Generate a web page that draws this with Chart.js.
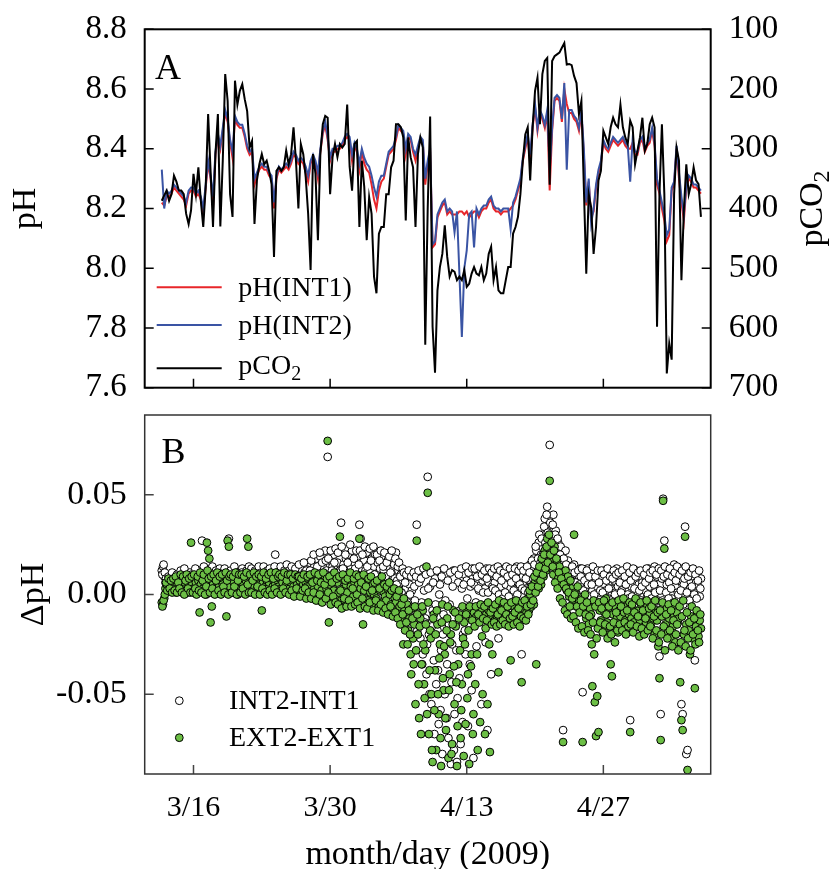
<!DOCTYPE html>
<html><head><meta charset="utf-8">
<script src="https://cdn.jsdelivr.net/npm/chart.js@4.4.0/dist/chart.umd.min.js"></script>
<style>
html,body{margin:0;padding:0;background:#fff;}
#wrap{position:relative;width:836px;height:869px;overflow:hidden;}
#cA{position:absolute;left:0;top:0;}
#cB{position:absolute;left:0;top:400px;}
</style></head><body>
<div id="wrap">
<canvas id="cA" width="836" height="400"></canvas>
<canvas id="cB" width="836" height="469"></canvas>
</div>
<script>
// ---------- DATA ----------
// Panel A: readings every 0.25 day starting at March 12.75 (day-of-March axis; April d = 31+d)
const aStartDay = 12.75, aStepDay = 0.25;
const pco2 = [387,378,370,387,376,345,355,370,370,376,
409,426,403,342,376,331,387,431,364,242,
337,431,309,242,430,320,175,220,376,414,
186,226,203,192,217,237,298,287,426,353,
326,309,326,320,337,359,481,337,331,337,
331,303,326,309,264,320,400,292,309,348,
409,503,309,342,453,309,259,245,248,376,
314,292,314,292,298,292,226,330,370,292,
287,431,320,364,453,381,409,514,542,442,
431,431,376,376,331,320,259,259,264,281,
420,281,314,331,431,309,281,298,628,400,
246,598,675,537,498,476,428,481,514,503,
506,520,514,520,503,531,526,509,498,509,
512,498,520,509,476,464,520,498,537,542,
542,520,498,498,442,431,414,376,320,276,
264,353,264,203,181,259,175,153,148,360,
153,145,142,139,131,123,159,158,160,178,
190,242,220,364,509,376,398,476,431,353,
337,270,281,292,264,248,259,264,226,264,
281,292,253,264,326,303,281,248,303,292,
259,248,264,598,376,259,376,676,626,653,
376,298,320,520,403,326,376,359,331,353,
359,414];
const phInt1 = [8.22,8.21,8.24,8.24,8.25,8.27,8.26,8.25,8.24,8.23,
8.21,8.25,8.26,8.26,8.24,8.25,8.23,8.18,8.27,8.35,
8.30,8.20,8.38,8.44,8.40,8.46,8.52,8.49,8.42,8.37,
8.50,8.48,8.47,8.47,8.44,8.40,8.38,8.39,8.28,8.31,
8.33,8.34,8.33,8.33,8.31,8.30,8.20,8.30,8.33,8.32,
8.33,8.34,8.33,8.35,8.38,8.37,8.35,8.36,8.35,8.32,
8.29,8.35,8.37,8.35,8.30,8.39,8.45,8.48,8.43,8.36,
8.39,8.39,8.40,8.40,8.41,8.43,8.44,8.43,8.36,8.41,
8.39,8.33,8.39,8.35,8.33,8.32,8.28,8.23,8.20,8.26,
8.29,8.30,8.34,8.38,8.39,8.40,8.43,8.47,8.46,8.45,
8.38,8.44,8.43,8.39,8.36,8.40,8.43,8.42,8.28,8.35,
8.39,8.07,8.08,8.17,8.19,8.21,8.22,8.18,8.19,8.18,
8.18,8.18,8.19,8.19,8.18,8.19,8.17,8.18,8.19,8.19,
8.17,8.19,8.20,8.20,8.22,8.23,8.20,8.19,8.19,8.18,
8.19,8.19,8.19,8.20,8.21,8.23,8.26,8.29,8.36,8.40,
8.44,8.35,8.47,8.54,8.46,8.52,8.50,8.47,8.52,8.26,
8.46,8.56,8.57,8.56,8.49,8.60,8.55,8.52,8.52,8.50,
8.49,8.46,8.52,8.38,8.21,8.29,8.17,8.19,8.27,8.32,
8.35,8.42,8.40,8.39,8.41,8.43,8.42,8.41,8.42,8.43,
8.41,8.40,8.40,8.42,8.38,8.38,8.42,8.43,8.39,8.41,
8.42,8.46,8.41,8.28,8.25,8.20,8.16,8.09,8.11,8.26,
8.28,8.40,8.30,8.22,8.16,8.27,8.30,8.29,8.27,8.27,
8.26,8.25];
const phInt2 = [8.33,8.20,8.26,8.25,8.26,8.28,8.27,8.26,8.25,8.24,
8.22,8.26,8.27,8.27,8.25,8.26,8.24,8.20,8.28,8.36,
8.31,8.24,8.39,8.45,8.41,8.47,8.53,8.50,8.43,8.39,
8.51,8.49,8.48,8.48,8.45,8.41,8.39,8.40,8.30,8.32,
8.34,8.35,8.34,8.34,8.32,8.31,8.22,8.31,8.34,8.33,
8.34,8.35,8.34,8.36,8.39,8.38,8.36,8.37,8.36,8.34,
8.31,8.36,8.38,8.36,8.32,8.40,8.46,8.49,8.44,8.37,
8.40,8.40,8.41,8.41,8.42,8.44,8.45,8.44,8.38,8.42,
8.40,8.35,8.40,8.37,8.35,8.34,8.31,8.27,8.24,8.29,
8.31,8.31,8.35,8.39,8.40,8.41,8.44,8.48,8.47,8.46,
8.40,8.45,8.44,8.40,8.38,8.41,8.44,8.43,8.30,8.36,
8.40,8.08,8.09,8.18,8.20,8.22,8.23,8.19,8.20,8.19,
8.12,8.19,7.98,7.77,8.00,8.06,8.18,8.19,8.07,8.20,
8.18,8.20,8.21,8.21,8.23,8.24,8.21,8.20,8.20,8.19,
8.20,8.20,8.20,8.13,8.22,8.24,8.27,8.30,8.37,8.41,
8.45,8.38,8.48,8.55,8.47,8.53,8.51,8.48,8.53,8.33,
8.47,8.57,8.58,8.57,8.50,8.62,8.33,8.53,8.53,8.51,
8.50,8.47,8.53,8.40,8.22,8.30,8.15,8.20,8.28,8.33,
8.36,8.43,8.41,8.40,8.42,8.44,8.43,8.42,8.43,8.44,
8.42,8.41,8.29,8.43,8.39,8.39,8.43,8.44,8.40,8.42,
8.43,8.47,8.42,8.30,8.26,8.22,8.18,8.11,8.13,8.27,
8.29,8.41,8.32,8.24,8.18,8.28,8.31,8.30,8.28,8.28,
8.27,8.26];

// Panel B: readings every 0.125 day starting at March 12.75, plus the in-between readings
const bStartDay = 12.75, bStepDay = 0.125;
const dInt21 = [
0.012,0.014,0.009,0.006,0.008,0.004,0.007,0.005,
0.006,0.009,0.003,0.007,0.005,0.008,0.002,0.006,
0.005,0.010,0.004,0.007,0.003,0.008,0.006,0.011,
0.004,0.009,0.006,0.002,0.008,0.005,0.012,0.007,
0.008,0.027,0.004,0.008,0.013,0.003,0.006,0.009,
0.005,0.011,0.002,0.007,0.009,0.004,0.010,0.006,
0.007,0.003,0.009,0.005,0.012,0.006,0.008,0.028,
0.006,0.010,0.004,0.008,0.002,0.009,0.005,0.011,
0.007,0.003,0.013,0.006,0.009,0.004,0.008,0.005,
0.010,0.006,0.002,0.008,0.005,0.011,0.007,0.004,
0.009,0.005,0.012,0.003,0.007,0.010,0.006,0.008,
0.004,0.009,0.006,0.011,0.008,0.020,0.005,0.003,
0.008,0.012,0.006,0.009,0.004,0.010,0.007,0.013,
0.006,0.009,0.003,0.011,0.008,0.005,0.012,0.007,
0.010,0.006,0.013,0.008,0.004,0.011,0.007,0.014,
0.009,0.016,0.007,0.012,0.005,0.014,0.010,0.018,
0.011,0.006,0.019,0.009,0.014,0.008,0.022,0.012,
0.069,0.010,0.017,0.007,0.014,0.020,0.009,0.013,
0.016,0.008,0.012,0.036,0.010,0.015,0.006,0.018,
0.012,0.020,0.008,0.014,0.022,0.009,0.016,0.011,
0.019,0.010,0.035,0.028,0.013,0.007,0.017,0.012,
0.021,0.009,0.015,0.011,0.018,0.006,0.014,0.020,
0.010,0.016,0.008,0.013,0.019,0.007,0.012,0.015,
0.009,0.014,0.006,0.021,0.011,0.005,0.013,0.008,
0.021,0.007,0.012,0.004,0.010,0.006,0.002,0.009,
0.003,0.008,-0.002,0.005,-0.006,0.002,-0.010,0.004,
-0.008,0.035,-0.015,0.006,-0.022,-0.004,-0.030,0.002,
-0.012,-0.040,0.059,-0.020,0.004,-0.055,-0.008,-0.033,
0.008,-0.045,-0.018,-0.065,0.005,-0.028,-0.080,-0.010,
-0.050,0.010,-0.035,-0.072,-0.005,-0.085,-0.025,0.012,
-0.060,-0.015,-0.084,0.006,-0.042,-0.075,0.003,-0.020,
0.010,-0.030,0.007,-0.066,0.012,0.004,-0.048,0.009,
0.005,0.011,-0.026,0.008,0.002,0.012,-0.055,0.007,
0.009,0.003,0.013,-0.068,0.006,0.010,-0.040,0.004,
0.011,0.006,0.002,0.012,-0.022,0.008,0.004,0.010,
0.007,0.013,0.005,0.001,0.011,0.008,0.003,0.012,
0.006,0.010,0.002,0.014,0.008,0.004,0.011,-0.030,
0.009,0.005,0.013,0.003,0.010,0.007,0.015,0.006,
0.012,0.018,0.008,0.022,0.014,0.026,0.011,0.020,
0.030,0.016,0.038,0.024,0.044,0.020,0.075,0.035,
0.028,0.040,0.022,0.032,0.018,0.026,0.014,0.024,
0.020,-0.068,0.012,0.022,0.009,0.017,0.006,0.014,
0.010,0.004,0.015,0.007,0.012,0.002,0.009,0.013,
0.005,-0.049,0.011,0.003,0.008,0.013,0.000,0.006,
0.010,0.002,0.012,-0.003,0.007,0.004,0.011,0.001,
0.008,-0.004,0.005,0.012,0.002,0.009,-0.002,0.006,
0.003,0.010,-0.005,0.007,0.001,0.013,0.004,-0.001,
0.009,0.002,0.006,-0.003,0.011,0.005,0.000,0.008,
-0.063,0.004,0.010,-0.002,0.007,0.012,0.001,0.005,
0.009,-0.003,0.006,0.011,0.002,0.008,-0.001,0.013,
0.004,0.010,0.000,0.007,0.014,0.003,0.009,-0.004,
-0.031,-0.060,0.008,0.048,0.027,0.011,0.005,0.013,
0.006,0.012,-0.002,0.009,0.015,0.004,0.010,0.001,
0.007,0.013,-0.055,-0.060,0.005,0.034,-0.080,-0.078,
0.009,0.003,0.012,-0.002,0.009,-0.033,0.006,0.011,
0.004,-0.001,0.008];
const dInt21Mid = [
0.010,0.015,0.011,0.008,0.005,0.009,0.003,0.008,
0.011,0.004,0.008,0.001,0.010,0.004,0.007,0.012,
0.002,0.008,0.013,0.005,0.009,0.001,0.007,0.004,
0.010,0.003,0.007,0.013,0.001,0.009,0.004,0.010,
0.002,0.007,0.014,0.005,0.000,0.010,0.012,0.003,
0.008,0.014,0.006,0.001,0.012,0.007,0.003,0.013,
0.004,0.011,0.001,0.013,0.008,0.002,0.010,0.004,
0.012,0.002,0.007,0.014,0.005,0.011,0.000,0.008,
0.002,0.011,0.005,0.010,0.001,0.012,0.006,0.014,
0.003,0.013,0.008,0.001,0.012,0.004,0.010,0.014,
0.002,0.011,0.007,0.014,0.004,0.001,0.012,0.005,
0.013,0.001,0.010,0.005,0.014,0.002,0.011,0.008,
0.003,0.014,0.009,0.002,0.012,0.006,0.015,0.004,
0.012,0.002,0.014,0.007,0.001,0.013,0.009,0.003,
0.015,0.004,0.009,0.002,0.016,0.006,0.012,0.005,
0.003,0.012,0.017,0.006,0.020,0.009,0.004,0.014,
0.007,0.021,0.004,0.016,0.010,0.003,0.017,0.007,
0.018,0.005,0.022,0.012,0.003,0.016,0.023,0.006,
0.021,0.011,0.004,0.024,0.013,0.007,0.020,0.003,
0.016,0.006,0.025,0.010,0.004,0.018,0.013,0.022,
0.005,0.015,0.022,0.004,0.020,0.009,0.024,0.006,
0.014,0.003,0.023,0.017,0.008,0.024,0.010,0.005,
0.020,0.004,0.017,0.022,0.003,0.014,0.021,0.009,
0.016,0.003,0.019,0.011,0.022,0.002,0.015,0.018,
0.005,0.014,0.016,0.009,0.001,0.013,0.011,0.006,
0.010,-0.004,0.012,0.000,0.009,-0.012,0.011,-0.003,
0.009,-0.018,0.012,-0.009,0.008,-0.035,0.013,-0.014,
0.010,-0.025,0.003,-0.050,0.011,-0.016,0.006,-0.070,
-0.005,0.012,-0.038,0.000,-0.058,0.009,-0.020,0.013,
-0.003,-0.062,0.007,-0.015,0.011,-0.044,0.004,-0.078,
0.012,-0.028,-0.052,0.010,-0.008,0.013,-0.064,0.005,
-0.018,0.014,-0.002,0.011,-0.035,0.006,0.013,-0.082,
0.013,-0.004,0.009,0.003,0.014,-0.012,0.010,0.001,
0.012,-0.024,0.008,0.001,0.013,-0.009,0.011,0.003,
0.013,0.002,0.009,0.014,0.000,0.012,0.007,-0.002,
0.011,0.001,0.014,0.009,-0.001,0.013,0.006,0.010,
0.002,0.013,0.008,0.000,0.012,0.005,0.014,0.003,
0.012,0.002,0.008,0.014,0.001,0.011,0.004,0.017,
0.008,0.015,0.024,0.010,0.018,0.030,0.016,0.028,
0.020,0.034,0.026,0.040,0.031,0.022,0.036,0.027,
0.035,0.018,0.030,0.014,0.028,0.010,0.020,0.016,
0.008,0.018,0.004,0.015,0.011,0.002,0.012,0.007,
0.014,0.001,0.011,0.006,-0.002,0.012,0.005,0.009,
0.013,0.002,0.007,-0.003,0.012,0.005,0.009,-0.001,
0.005,0.014,0.000,0.009,-0.005,0.012,0.006,0.002,
0.012,0.001,0.010,-0.004,0.007,0.013,0.003,0.009,
-0.003,0.008,0.012,0.000,0.010,-0.004,0.011,0.006,
0.001,0.012,-0.004,0.009,0.005,0.014,-0.002,0.011,
0.007,-0.001,0.013,0.003,0.009,-0.005,0.011,0.002,
0.012,0.004,-0.004,0.010,0.006,0.013,0.000,0.008,
0.011,-0.002,0.012,0.005,0.001,0.010,-0.003,0.013,
0.002,0.012,-0.003,0.009,0.014,0.001,0.010,-0.002,
0.013,0.003,0.009,-0.004,0.011,0.007,0.014,0.000,
0.010,0.002,0.012,-0.005,0.008,0.014,0.001,0.009,
-0.003,0.011,0.004,0.013,0.000,0.010,-0.002,0.007,
0.012,0.003];
const dExt21 = [
-0.004,-0.005,-0.002,0.003,0.005,0.002,0.006,0.004,
0.005,0.003,0.007,0.004,0.006,0.002,0.008,0.005,
0.004,0.007,0.003,0.006,0.002,0.008,0.005,0.009,
0.026,0.005,0.003,0.008,0.006,0.002,0.007,-0.009,
0.005,0.008,0.003,0.006,0.010,0.026,0.022,0.018,
-0.014,-0.006,0.005,0.003,0.008,0.001,0.006,0.004,
0.007,0.002,0.005,0.009,0.003,-0.011,0.027,0.024,
0.004,0.008,0.001,0.006,0.003,0.009,0.005,0.002,
0.006,0.003,0.008,0.005,0.001,0.007,0.028,0.024,
0.005,0.009,0.002,0.006,0.004,0.008,0.003,0.007,
0.005,0.002,-0.008,0.006,0.009,0.004,0.007,0.003,
0.006,0.001,0.008,0.004,0.010,0.005,0.002,0.007,
0.004,0.008,0.003,0.006,0.001,0.009,0.005,0.002,
0.007,0.003,0.006,0.010,0.004,0.001,0.008,0.005,
0.003,0.007,0.002,0.009,0.005,0.000,0.006,0.004,
0.008,0.002,0.005,-0.002,0.007,0.003,0.010,0.001,
0.004,-0.003,0.008,0.002,0.006,-0.001,0.009,0.003,
0.077,-0.014,0.005,-0.004,0.010,0.002,0.007,-0.002,
0.006,0.001,0.029,-0.003,0.008,0.003,-0.006,0.005,
0.001,0.007,-0.004,0.004,0.009,-0.001,0.006,0.002,
0.000,0.005,0.028,0.003,0.008,-0.015,0.002,-0.002,
0.004,-0.003,0.007,0.001,-0.005,0.005,0.000,0.003,
-0.002,0.004,-0.006,0.002,0.006,-0.004,0.001,-0.001,
-0.003,0.003,-0.007,0.000,-0.005,0.002,-0.008,-0.002,
-0.004,-0.009,0.000,-0.006,-0.012,-0.003,-0.025,-0.008,
-0.010,-0.005,-0.018,-0.012,-0.030,-0.007,-0.022,-0.015,
-0.055,0.027,-0.020,-0.062,-0.012,-0.035,-0.008,-0.045,
-0.028,0.014,0.051,-0.070,-0.018,-0.050,-0.084,-0.010,
-0.038,-0.078,-0.015,-0.060,-0.025,-0.086,-0.005,-0.048,
-0.030,-0.068,-0.012,-0.082,-0.040,-0.020,-0.075,-0.008,
-0.055,-0.016,-0.086,-0.035,-0.010,-0.072,-0.045,-0.022,
-0.014,-0.065,-0.008,-0.040,-0.085,-0.012,-0.030,-0.070,
-0.009,-0.045,-0.011,-0.078,-0.013,-0.064,-0.007,-0.050,
-0.012,-0.070,-0.010,-0.055,-0.008,-0.079,-0.011,-0.030,
-0.009,-0.013,-0.006,-0.011,-0.039,-0.008,-0.012,-0.010,
-0.007,-0.012,-0.009,-0.014,-0.006,-0.011,-0.033,-0.013,
-0.010,-0.006,-0.012,-0.008,-0.013,-0.005,-0.009,-0.044,
-0.007,-0.011,-0.004,-0.009,-0.002,-0.008,0.000,-0.006,
0.002,-0.005,0.006,-0.035,0.008,0.003,0.012,0.005,
0.015,0.009,0.022,0.012,0.028,0.014,0.057,0.018,
0.020,0.010,0.024,0.013,0.017,0.008,0.014,0.005,
0.011,-0.074,0.006,0.012,0.002,0.009,-0.001,0.007,
0.003,-0.004,0.030,0.001,-0.006,0.004,-0.003,-0.008,
-0.002,-0.074,-0.009,0.000,-0.012,-0.005,-0.015,-0.007,
-0.010,-0.046,-0.003,-0.054,-0.071,-0.051,-0.069,-0.008,
-0.013,-0.005,-0.018,-0.009,-0.002,-0.014,-0.007,-0.020,
-0.035,-0.041,-0.010,-0.016,-0.006,-0.012,-0.019,-0.008,
-0.011,-0.004,-0.015,-0.009,-0.013,-0.006,-0.017,-0.010,
-0.069,-0.012,-0.007,-0.014,-0.003,-0.010,-0.016,-0.008,
-0.013,-0.005,-0.011,-0.018,-0.009,-0.014,-0.006,-0.012,
-0.010,-0.015,-0.004,-0.012,-0.020,-0.008,-0.013,-0.026,
-0.042,-0.073,-0.011,0.047,0.023,-0.015,-0.007,-0.019,
-0.012,-0.022,-0.006,-0.016,-0.010,-0.024,-0.009,-0.014,
-0.012,-0.044,-0.063,-0.068,-0.020,0.029,-0.015,-0.088,
-0.018,-0.030,-0.011,-0.022,-0.014,-0.047,-0.016,-0.010,
-0.021,-0.013,-0.017];
const dExt21Mid = [
-0.006,-0.003,0.000,0.006,0.002,0.008,0.003,0.007,
0.001,0.008,0.002,0.009,0.001,0.006,0.003,0.010,
0.001,0.009,0.000,0.007,0.010,0.003,0.008,0.001,
0.009,0.001,0.010,0.003,0.000,0.009,0.002,0.011,
0.001,0.007,0.010,0.000,0.004,0.012,0.008,0.001,
0.009,0.003,0.010,0.000,0.007,0.011,0.002,0.009,
0.000,0.010,0.004,0.001,0.011,0.007,0.000,0.009,
0.010,0.001,0.009,0.004,0.011,0.000,0.007,0.010,
0.001,0.010,0.003,0.009,0.000,0.011,0.005,0.001,
0.010,0.001,0.007,0.011,0.000,0.009,0.004,0.010,
0.000,0.009,0.003,0.011,0.001,0.008,0.000,0.010,
0.002,0.011,0.000,0.008,0.003,0.011,0.001,0.009,
0.010,0.000,0.009,0.003,0.011,0.001,0.007,0.010,
0.000,0.010,0.002,0.008,-0.001,0.010,0.003,0.009,
0.009,-0.001,0.008,0.002,0.010,0.003,-0.002,0.009,
0.001,0.010,-0.002,0.006,0.001,0.011,-0.003,0.007,
0.010,0.000,0.006,-0.004,0.011,0.005,-0.002,0.008,
0.001,0.009,-0.005,0.006,-0.001,0.011,-0.004,0.008,
-0.005,0.009,0.002,-0.007,0.010,-0.002,0.007,-0.006,
0.008,-0.003,0.011,-0.006,0.003,0.008,-0.005,0.010,
-0.004,0.009,-0.007,0.006,-0.002,0.010,-0.006,0.004,
-0.007,0.008,-0.004,0.009,0.002,-0.008,0.006,-0.003,
0.007,-0.008,0.003,-0.005,0.009,-0.009,0.005,-0.007,
0.004,-0.010,0.006,-0.006,0.002,-0.011,0.003,-0.009,
-0.001,-0.012,0.002,-0.015,-0.005,-0.010,-0.002,-0.018,
-0.014,-0.025,-0.008,-0.020,-0.040,-0.012,-0.035,-0.006,
-0.028,-0.010,-0.045,-0.016,-0.070,-0.006,-0.025,-0.052,
-0.015,-0.060,-0.004,-0.038,-0.022,-0.078,-0.012,-0.058,
-0.020,-0.008,-0.050,-0.032,-0.072,-0.014,-0.042,-0.026,
-0.062,-0.018,-0.006,-0.048,-0.024,-0.080,-0.015,-0.036,
-0.009,-0.044,-0.066,-0.012,-0.028,-0.058,-0.006,-0.081,
-0.025,-0.010,-0.052,-0.018,-0.006,-0.036,-0.013,-0.060,
-0.016,-0.006,-0.030,-0.010,-0.014,-0.005,-0.021,-0.012,
-0.006,-0.017,-0.013,-0.004,-0.025,-0.009,-0.015,-0.007,
-0.014,-0.005,-0.016,-0.010,-0.003,-0.015,-0.008,-0.013,
-0.004,-0.015,-0.010,-0.006,-0.016,-0.012,-0.004,-0.011,
-0.015,-0.009,-0.003,-0.014,-0.007,-0.016,-0.011,-0.004,
-0.012,-0.003,-0.013,-0.006,-0.010,0.002,-0.005,0.004,
-0.003,0.009,0.001,0.011,0.004,0.014,0.007,0.018,
0.010,0.020,0.013,0.024,0.016,0.030,0.020,0.026,
0.014,0.022,0.006,0.018,0.003,0.011,-0.002,0.008,
-0.004,0.005,-0.008,0.003,-0.010,0.001,-0.006,-0.012,
-0.002,-0.011,0.000,-0.014,-0.006,-0.017,-0.009,-0.003,
-0.016,-0.006,-0.019,-0.010,-0.004,-0.018,-0.011,-0.020,
-0.025,-0.014,-0.030,-0.006,-0.022,-0.017,-0.004,-0.014,
-0.007,-0.019,-0.003,-0.015,-0.010,-0.022,-0.006,-0.016,
-0.020,-0.004,-0.014,-0.024,-0.009,-0.018,-0.003,-0.015,
-0.006,-0.018,-0.002,-0.014,-0.020,-0.008,-0.016,-0.004,
-0.015,-0.005,-0.019,-0.009,-0.002,-0.016,-0.011,-0.021,
-0.004,-0.017,-0.008,-0.020,-0.012,-0.003,-0.018,-0.007,
-0.016,-0.006,-0.022,-0.011,-0.003,-0.018,-0.009,-0.024,
-0.008,-0.020,-0.004,-0.016,-0.028,-0.010,-0.022,-0.005,
-0.018,-0.008,-0.026,-0.013,-0.004,-0.020,-0.015,-0.028,
-0.006,-0.024,-0.011,-0.003,-0.018,-0.026,-0.009,-0.022,
-0.014,-0.028,-0.006,-0.020,-0.012,-0.025,-0.008,-0.018,
-0.024,-0.010];

// Axis ticks
const xTickDays = [16, 30, 44, 58];
const xTickLabels = ['3/16', '3/30', '4/13', '4/27'];
const phTicks = [7.6, 7.8, 8.0, 8.2, 8.4, 8.6, 8.8];
const pco2Ticks = [100, 200, 300, 400, 500, 600, 700];
const dphTicks = [-0.05, 0, 0.05];

// ---------- HELPERS ----------
const FONT = "'Liberation Serif', 'Times New Roman', serif";
const RED = '#e8262a', BLUE = '#3a54a4', GREEN = '#6cbf45';
function toXY(arr, start, step) { return arr.map((v, i) => ({x: start + i * step, y: v})); }
function setTicks(list) { return s => { s.ticks = list.map(v => ({value: v})); }; }
function fixV(w) { return s => { s.width = w; s.paddingTop = 0; s.paddingBottom = 0; }; }
function fixH(h) { return s => { s.height = h; s.paddingLeft = 0; s.paddingRight = 0; }; }

function inwardTicks(chart, color, lw, withRight) {
  const ctx = chart.ctx, a = chart.chartArea, L = 9;
  ctx.save();
  ctx.strokeStyle = color; ctx.lineWidth = lw;
  ctx.beginPath();
  const sx = chart.scales.x;
  sx.ticks.forEach(t => { const p = sx.getPixelForValue(t.value); ctx.moveTo(p, a.bottom); ctx.lineTo(p, a.bottom - L); });
  const sy = chart.scales.y;
  sy.ticks.forEach(t => { const p = sy.getPixelForValue(t.value); ctx.moveTo(a.left, p); ctx.lineTo(a.left + L, p); });
  if (withRight) {
    const s2 = chart.scales.y2;
    s2.ticks.forEach(t => { const p = s2.getPixelForValue(t.value); ctx.moveTo(a.right, p); ctx.lineTo(a.right - L, p); });
  }
  ctx.stroke();
  ctx.restore();
}
function rotText(ctx, txt, x, y, size) {
  ctx.save();
  ctx.translate(x, y); ctx.rotate(-Math.PI / 2);
  ctx.font = size + 'px ' + FONT; ctx.textAlign = 'center'; ctx.textBaseline = 'middle';
  ctx.fillStyle = '#000'; ctx.fillText(txt, 0, 0);
  ctx.restore();
}

// ---------- PANEL A ----------
const plugA = {
  id: 'plugA',
  afterDraw(chart) {
    const ctx = chart.ctx, a = chart.chartArea;
    inwardTicks(chart, '#000', 1.5, true);
    ctx.save();
    ctx.strokeStyle = '#000'; ctx.lineWidth = 2;
    ctx.strokeRect(a.left, a.top, a.right - a.left, a.bottom - a.top);
    const cy = (a.top + a.bottom) / 2;
    rotText(ctx, 'pH', 26, cy, 34);
    ctx.save();
    ctx.translate(813, cy); ctx.rotate(-Math.PI / 2);
    ctx.fillStyle = '#000'; ctx.textBaseline = 'middle'; ctx.textAlign = 'left';
    ctx.font = '34px ' + FONT; const w1 = ctx.measureText('pCO').width;
    ctx.font = '24px ' + FONT; const w2 = ctx.measureText('2').width;
    const sx = -(w1 + w2) / 2;
    ctx.font = '34px ' + FONT; ctx.fillText('pCO', sx, 0);
    ctx.font = '24px ' + FONT; ctx.fillText('2', sx + w1, 10);
    ctx.restore();
    ctx.fillStyle = '#000'; ctx.font = '36px ' + FONT; ctx.textAlign = 'left'; ctx.textBaseline = 'alphabetic';
    ctx.fillText('A', 155, 79);
    const ds = chart.data.datasets;
    const items = [[ds[2], 287.3], [ds[1], 325], [ds[0], 368.3]];
    items.forEach(([d, y]) => {
      ctx.strokeStyle = d.borderColor; ctx.lineWidth = 2;
      ctx.beginPath(); ctx.moveTo(156.7, y); ctx.lineTo(221.7, y); ctx.stroke();
    });
    ctx.fillStyle = '#000'; ctx.textBaseline = 'middle';
    ctx.font = '28px ' + FONT;
    ctx.fillText('pH(INT1)', 238.3, 289);
    ctx.fillText('pH(INT2)', 238.3, 326.5);
    const wp = ctx.measureText('pCO').width;
    ctx.fillText('pCO', 238.3, 367);
    ctx.font = '20px ' + FONT;
    ctx.fillText('2', 238.3 + wp, 375);
    ctx.restore();
  }
};

new Chart(document.getElementById('cA'), {
  type: 'line',
  data: {
    datasets: [
      {label: 'pCO2', data: toXY(pco2, aStartDay, aStepDay), yAxisID: 'y2', borderColor: '#000', borderWidth: 2, pointRadius: 0, tension: 0, order: 0},
      {label: 'pH(INT2)', data: toXY(phInt2, aStartDay, aStepDay), yAxisID: 'y', borderColor: BLUE, borderWidth: 2, pointRadius: 0, tension: 0, order: 1},
      {label: 'pH(INT1)', data: toXY(phInt1, aStartDay, aStepDay), yAxisID: 'y', borderColor: RED, borderWidth: 2, pointRadius: 0, tension: 0, order: 2}
    ]
  },
  options: {
    responsive: false, animation: false, events: [],
    layout: {padding: {top: 29.3, left: 0, right: 0, bottom: 0}},
    plugins: {legend: {display: false}, tooltip: {enabled: false}},
    scales: {
      x: {type: 'linear', min: 11, max: 69, position: 'bottom',
          grid: {display: false, drawTicks: false}, border: {display: false},
          ticks: {display: false}, afterBuildTicks: setTicks(xTickDays),
          afterFit: fixH(12.3)},
      y: {type: 'linear', position: 'left', min: 7.6, max: 8.8,
          grid: {display: false, drawTicks: false}, border: {display: false},
          ticks: {font: {family: FONT, size: 33}, color: '#000', padding: 18, callback: v => Number(v).toFixed(1)},
          afterBuildTicks: setTicks(phTicks), afterFit: fixV(144.7)},
      y2: {type: 'linear', position: 'right', min: 100, max: 700, reverse: true,
          grid: {display: false, drawTicks: false}, border: {display: false},
          ticks: {font: {family: FONT, size: 33}, color: '#000', padding: 18, callback: v => String(v)},
          afterBuildTicks: setTicks(pco2Ticks), afterFit: fixV(125.3)}
    }
  },
  plugins: [plugA]
});

// ---------- PANEL B ----------
const plugB = {
  id: 'plugB',
  afterDraw(chart) {
    const ctx = chart.ctx, a = chart.chartArea;
    inwardTicks(chart, '#444', 1.5, false);
    ctx.save();
    ctx.strokeStyle = '#333'; ctx.lineWidth = 1.5;
    ctx.strokeRect(a.left, a.top, a.right - a.left, a.bottom - a.top);
    rotText(ctx, '\u0394pH', 34, (a.top + a.bottom) / 2, 34);
    ctx.fillStyle = '#000'; ctx.font = '34px ' + FONT; ctx.textAlign = 'center'; ctx.textBaseline = 'alphabetic';
    ctx.fillText('month/day (2009)', (a.left + a.right) / 2, 464);
    ctx.textAlign = 'left';
    ctx.font = '36px ' + FONT;
    ctx.fillText('B', 161.5, 63.3);
    const ds = chart.data.datasets;
    const items = [[ds[1], 300.7, 'INT2-INT1'], [ds[0], 337.7, 'EXT2-EXT1']];
    items.forEach(([d, y, txt]) => {
      ctx.beginPath(); ctx.arc(179.3, y, 3.9, 0, Math.PI * 2);
      ctx.fillStyle = d.backgroundColor; ctx.fill();
      ctx.strokeStyle = '#000'; ctx.lineWidth = 1; ctx.stroke();
      ctx.fillStyle = '#000'; ctx.font = '28px ' + FONT; ctx.textBaseline = 'middle';
      ctx.fillText(txt, 229, y + 1);
    });
    ctx.restore();
  }
};

new Chart(document.getElementById('cB'), {
  type: 'scatter',
  data: {
    datasets: [
      {label: 'EXT2-EXT1',
       data: toXY(dExt21, bStartDay, bStepDay).concat(toXY(dExt21Mid, bStartDay + bStepDay / 2, bStepDay)),
       backgroundColor: GREEN, borderColor: '#000', borderWidth: 1, pointRadius: 3.9, order: 0},
      {label: 'INT2-INT1',
       data: toXY(dInt21, bStartDay, bStepDay).concat(toXY(dInt21Mid, bStartDay + bStepDay / 2, bStepDay)),
       backgroundColor: '#fff', borderColor: '#000', borderWidth: 1, pointRadius: 3.9, order: 1}
    ]
  },
  options: {
    responsive: false, animation: false, events: [],
    layout: {padding: {top: 15, left: 0, right: 125.3, bottom: 0}},
    plugins: {legend: {display: false}, tooltip: {enabled: false}},
    scales: {
      x: {type: 'linear', min: 11, max: 69, position: 'bottom',
          grid: {display: false, drawTicks: false}, border: {display: false},
          ticks: {font: {family: FONT, size: 30}, color: '#000', padding: 16, maxRotation: 0, autoSkip: false,
                  callback: v => { const i = xTickDays.indexOf(v); return i >= 0 ? xTickLabels[i] : ''; }},
          afterBuildTicks: setTicks(xTickDays), afterFit: fixH(95)},
      y: {type: 'linear', position: 'left', min: -0.09, max: 0.09,
          grid: {display: false, drawTicks: false}, border: {display: false},
          ticks: {font: {family: FONT, size: 34}, color: '#000', padding: 18, callback: v => Number(v).toFixed(2)},
          afterBuildTicks: setTicks(dphTicks), afterFit: fixV(144.7)}
    }
  },
  plugins: [plugB]
});
</script>
</body></html>
